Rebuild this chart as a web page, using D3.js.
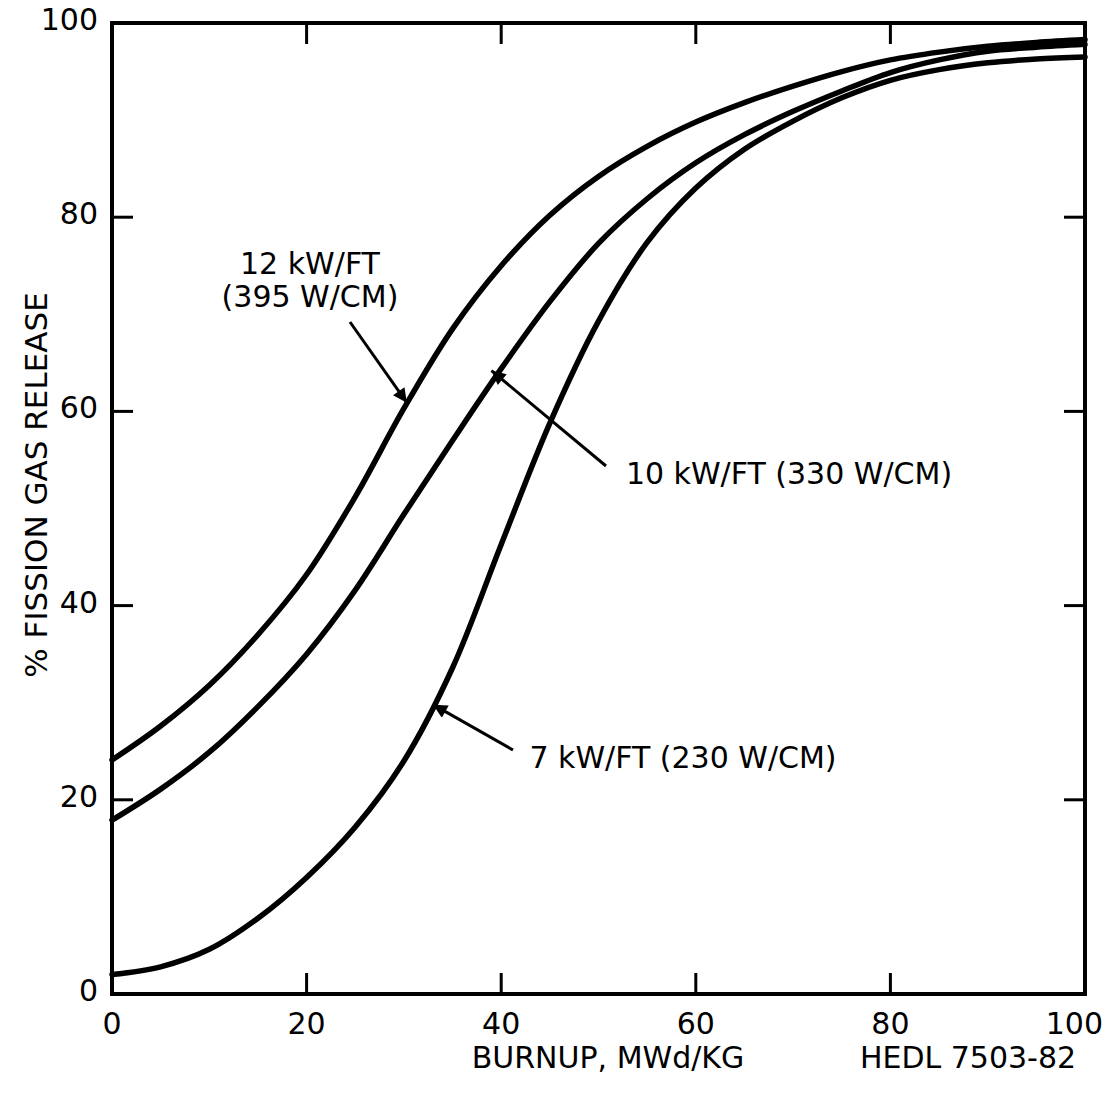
<!DOCTYPE html>
<html><head><meta charset="utf-8">
<script src="https://cdn.jsdelivr.net/npm/d3@7"></script>
<style>
html,body{margin:0;padding:0;background:#fff;}
svg text{font-family:"DejaVu Sans",sans-serif;fill:#000;}
</style></head>
<body><svg id="c" width="1109" height="1094"></svg>
<script>
const burnup = [0,5,10,15,20,25,30,35,40,45,50,55,60,65,70,75,80,85,90,95,100];
const release12 = [24.1,27.6,31.8,37,43.2,51.2,60.3,68.5,75,80.2,84.2,87.3,89.8,91.8,93.5,95,96.2,97,97.6,98,98.3];
const release10 = [17.9,21.1,24.9,29.6,35,41.6,49.4,57,64.4,71.3,77.3,81.9,85.6,88.5,90.9,93,94.9,96.2,97.1,97.5,97.8];
const release7  = [2,2.8,4.6,7.8,12,17.2,24,33.6,46.3,58.8,69.3,77.4,83,87,89.9,92.3,94.1,95.2,95.9,96.3,96.5];
const xTicks = [0,20,40,60,80,100];
const yTicks = [0,20,40,60,80,100];
const labels = [
  {lines:["12 kW/FT","(395 W/CM)"], at:[30.3,60.9], tx:310, ty:274, from:[350,322]},
  {lines:["10 kW/FT (330 W/CM)"], at:[39,64.2], tx:789, ty:484, from:[606,466]},
  {lines:["7 kW/FT (230 W/CM)"], at:[33,29.8], tx:683, ty:768, from:[513,750]}
];

const svg = d3.select("#c");
const x = d3.scaleLinear().domain([0,100]).range([112,1085]);
const y = d3.scaleLinear().domain([0,100]).range([994,23]);

svg.append("rect").attr("x",x(0)).attr("y",y(100)).attr("width",x(100)-x(0)).attr("height",y(0)-y(100))
  .attr("fill","none").attr("stroke","#000").attr("stroke-width",4);

const inner = [20,40,60,80];
const tl = 21;
inner.forEach(v=>{
  svg.append("line").attr("x1",x(v)).attr("x2",x(v)).attr("y1",y(0)).attr("y2",y(0)-tl).attr("stroke","#000").attr("stroke-width",3);
  svg.append("line").attr("x1",x(v)).attr("x2",x(v)).attr("y1",y(100)).attr("y2",y(100)+tl).attr("stroke","#000").attr("stroke-width",3);
  svg.append("line").attr("y1",y(v)).attr("y2",y(v)).attr("x1",x(0)).attr("x2",x(0)+tl).attr("stroke","#000").attr("stroke-width",3);
  svg.append("line").attr("y1",y(v)).attr("y2",y(v)).attr("x1",x(100)).attr("x2",x(100)-tl).attr("stroke","#000").attr("stroke-width",3);
});

svg.selectAll(".xt").data(xTicks).enter().append("text")
  .attr("x",d=>d===100?1103:x(d)).attr("y",1034)
  .attr("text-anchor",d=>d===100?"end":"middle").attr("font-size",30).text(d=>d);
svg.selectAll(".yt").data(yTicks).enter().append("text")
  .attr("x",98).attr("y",d=>y(d)+7).attr("text-anchor","end").attr("font-size",30).text(d=>d);

svg.append("text").attr("x",608).attr("y",1068).attr("text-anchor","middle").attr("font-size",30).text("BURNUP, MWd/KG");
svg.append("text").attr("x",968).attr("y",1068).attr("text-anchor","middle").attr("font-size",30).text("HEDL 7503-82");
svg.append("text").attr("transform","translate(47,485) rotate(-90)").attr("text-anchor","middle").attr("font-size",31).text("% FISSION GAS RELEASE");

const line = d3.line().x((d,i)=>x(burnup[i])).y(d=>y(d)).curve(d3.curveCatmullRom.alpha(0.5));
[release12,release10,release7].forEach(s=>{
  svg.append("path").attr("d",line(s)).attr("fill","none").attr("stroke","#000").attr("stroke-width",5.5).attr("stroke-linecap","round");
});

svg.append("defs").append("marker").attr("id","ah").attr("viewBox","0 0 10 10").attr("refX",10).attr("refY",5)
  .attr("markerWidth",22).attr("markerHeight",14).attr("markerUnits","userSpaceOnUse").attr("orient","auto")
  .append("path").attr("d","M0,0 L10,5 L0,10 Z").attr("fill","#000");

labels.forEach(l=>{
  svg.append("line").attr("x1",l.from[0]).attr("y1",l.from[1]).attr("x2",x(l.at[0])).attr("y2",y(l.at[1]))
    .attr("stroke","#000").attr("stroke-width",3).attr("marker-end","url(#ah)");
  l.lines.forEach((t,i)=>{
    svg.append("text").attr("x",l.tx).attr("y",l.ty+i*33).attr("text-anchor","middle").attr("font-size",30).text(t);
  });
});
</script></body></html>
